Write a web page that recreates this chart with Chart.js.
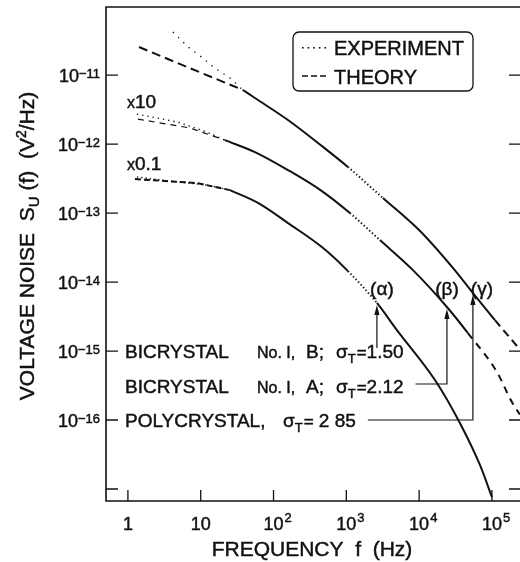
<!DOCTYPE html>
<html>
<head>
<meta charset="utf-8">
<script src="https://cdn.jsdelivr.net/npm/chart.js@4.4.0/dist/chart.umd.min.js"></script>
<style>
html, body { margin: 0; padding: 0; background: #fff; }
#wrap { width: 520px; height: 562px; }
</style>
</head>
<body>
<div id="wrap"><canvas id="noiseChart"></canvas></div>
<script>
// Frequencies in Hz, S_U in V^2/Hz (as plotted, multipliers already applied)
// src per segment: 'both' = experiment and theory agree, 'exp' = experiment only, 'theory' = theory only

// polycrystal, sigma_T = 2.85  (gamma)
const topTheoryLoF = [1.42, 7.1, 38];
const topTheoryLoS = [2.55e-11, 1.26e-11, 6.07e-12];
const topExpLoF = [4.15, 6.7, 10.7, 15.7, 25.2, 38];
const topExpLoS = [4.2e-11, 2.55e-11, 1.76e-11, 1.26e-11, 9.06e-12, 6.07e-12];
const topF = [38, 55.6, 158, 462, 1052, 3184, 10300, 29100, 54800, 110000, 227500];
const topS = [6.07e-12, 4.65e-12, 2.23e-12, 9.35e-13, 4.65e-13, 1.65e-13, 5.48e-14, 1.6e-14, 6.93e-15, 2.81e-15, 1.14e-15];
const topSrc = ['both', 'both', 'both', 'both', 'exp', 'both', 'both', 'both', 'both', 'theory'];

// bicrystal No. 1, A, sigma_T = 2.12  (beta), x10
const midTheoryLoF = [1.37, 7.1, 21.5];
const midTheoryLoS = [2.3e-12, 1.71e-12, 1.14e-12];
const midExpLoF = [1.33, 4.86, 12.2, 21.5];
const midExpLoS = [2.72e-12, 2.08e-12, 1.49e-12, 1.14e-12];
const midF = [21.5, 55.6, 158, 462, 1120, 2896, 8220, 24100, 46800, 117000, 188000, 242000];
const midS = [1.14e-12, 7.66e-13, 4.2e-13, 2.08e-13, 1.0e-13, 4.06e-14, 1.49e-14, 4.35e-15, 1.82e-15, 4.97e-16, 1.82e-16, 1.2e-16];
const midSrc = ['both', 'both', 'both', 'both', 'exp', 'both', 'both', 'both', 'theory', 'theory', 'theory'];

// bicrystal No. 1, B, sigma_T = 1.50  (alpha), x0.1
const botTheoryLoF = [1.25, 8.87, 25.2];
const botTheoryLoS = [3.11e-13, 2.72e-13, 2.15e-13];
const botExpLoF = [1.33, 3.77, 12.2, 25.2];
const botExpLoS = [3.33e-13, 2.91e-13, 2.55e-13, 2.15e-13];
const botF = [25.2, 61.1, 158, 462, 1052, 2632, 4955, 16500, 36300, 68400, 100000];
const botS = [2.15e-13, 1.4e-13, 7.16e-14, 3.21e-14, 1.44e-14, 4.97e-15, 2.01e-15, 3.8e-16, 9.06e-17, 2.23e-17, 7.66e-18];
const botSrc = ['both', 'both', 'both', 'both', 'exp', 'both', 'both', 'both', 'both', 'both'];

// arrow marks (alpha, beta, gamma) sit on the traces
const markNames = ['(α)', '(β)', '(γ)'];
const markF = [2632, 24100, 54800];
const markS = [4.97e-15, 4.35e-15, 6.93e-15];

const xTickExp = [0, 1, 2, 3, 4, 5];
const yTickExp = [-17, -16, -15, -14, -13, -12, -11];
const yLabelExp = [-16, -15, -14, -13, -12, -11];

const INK = '#111';
const FONT = '"Liberation Sans", Arial, sans-serif';
const font = size => size + 'px ' + FONT;

const pts = (fs, ss) => fs.map((f, i) => ({ x: f, y: ss[i] }));

function dashedLine(f, s, dash, width) {
  return {
    data: pts(f, s), showLine: true, pointRadius: 0, borderColor: INK,
    borderWidth: width, borderDash: dash, borderCapStyle: 'butt', tension: 0
  };
}

function trace(f, s, src, theoryDash) {
  return {
    data: pts(f, s), showLine: true, pointRadius: 0, borderColor: INK,
    borderWidth: 2, borderCapStyle: 'butt', cubicInterpolationMode: 'monotone',
    segment: {
      borderDash: ctx => {
        const k = src[ctx.p0DataIndex];
        if (k === 'exp') return [1.3, 2.4];
        if (k === 'theory') return theoryDash;
        return [];
      }
    }
  };
}

// draw [text, size, rise] pieces along one baseline, returns end x
function drawRuns(ctx, parts, x, y) {
  ctx.lineWidth = 0.45;
  for (const [t, size, rise] of parts) {
    ctx.font = font(size);
    ctx.fillText(t, x, y - (rise || 0));
    ctx.strokeText(t, x, y - (rise || 0));
    x += ctx.measureText(t).width;
  }
  return x;
}
function runsWidth(ctx, parts) {
  let w = 0;
  for (const [t, size] of parts) { ctx.font = font(size); w += ctx.measureText(t).width; }
  return w;
}

function arrowHead(ctx, x, y) {
  ctx.beginPath();
  ctx.moveTo(x, y);
  ctx.lineTo(x - 2.6, y + 10);
  ctx.lineTo(x + 2.6, y + 10);
  ctx.closePath();
  ctx.fill();
}

const decorations = {
  id: 'decorations',
  beforeDraw(chart) {
    const ctx = chart.ctx;
    ctx.save();
    ctx.fillStyle = '#fff';
    ctx.fillRect(0, 0, chart.width, chart.height);
    ctx.restore();
  },
  afterDraw(chart) {
    const ctx = chart.ctx;
    const a = chart.chartArea;
    const xs = chart.scales.x, ys = chart.scales.y;
    ctx.save();
    ctx.strokeStyle = INK;
    ctx.fillStyle = INK;
    ctx.textBaseline = 'alphabetic';

    // frame: the right side runs off the canvas edge
    ctx.lineWidth = 1.6;
    ctx.beginPath();
    ctx.moveTo(a.right, a.top);
    ctx.lineTo(a.left, a.top);
    ctx.lineTo(a.left, a.bottom);
    ctx.lineTo(a.right, a.bottom);
    ctx.stroke();

    // inward ticks
    ctx.lineWidth = 1.3;
    ctx.beginPath();
    for (const e of xTickExp) {
      const px = xs.getPixelForValue(Math.pow(10, e));
      ctx.moveTo(px, a.bottom); ctx.lineTo(px, a.bottom - 11);
    }
    for (const e of yTickExp) {
      const py = ys.getPixelForValue(Math.pow(10, e));
      ctx.moveTo(a.left, py); ctx.lineTo(a.left + 12, py);
      ctx.moveTo(a.right, py); ctx.lineTo(a.right - 11, py);
    }
    ctx.stroke();

    // y tick labels 10^-n
    for (const e of yLabelExp) {
      const py = ys.getPixelForValue(Math.pow(10, e));
      const parts = [['10', 18, 0], ['−' + Math.abs(e), 13, 4]];
      drawRuns(ctx, parts, a.left - 6 - runsWidth(ctx, parts), py + 6.5);
    }

    // x tick labels
    for (const e of xTickExp) {
      const px = xs.getPixelForValue(Math.pow(10, e));
      const base = e === 0 ? '1' : '10';
      ctx.font = font(18);
      const w = ctx.measureText(base).width;
      const end = drawRuns(ctx, [[base, 18, 0]], px - w / 2, a.bottom + 29);
      if (e > 1) drawRuns(ctx, [[String(e), 13, 8]], end + 1, a.bottom + 29);
    }

    // axis titles
    const xt = [['FREQUENCY  f  (Hz)', 21, 0]];
    drawRuns(ctx, xt, 312 - runsWidth(ctx, xt) / 2, a.bottom + 55);

    const yt = [['VOLTAGE NOISE  S', 21, 0], ['U', 15, -5], [' (f)  (V', 21, 0], ['2', 14, 8], ['/Hz)', 21, 0]];
    ctx.save();
    ctx.translate(26, 246);
    ctx.rotate(-Math.PI / 2);
    drawRuns(ctx, yt, -runsWidth(ctx, yt) / 2, 7.5);
    ctx.restore();

    // legend
    ctx.lineWidth = 1.3;
    ctx.beginPath();
    ctx.roundRect(293, 32, 180, 59, 6);
    ctx.stroke();
    for (let i = 0; i < 5; i++) ctx.fillRect(302 + i * 5.6, 47, 1.6, 1.6);
    ctx.lineWidth = 1.4;
    ctx.beginPath();
    for (let i = 0; i < 3; i++) { ctx.moveTo(302 + i * 9, 76); ctx.lineTo(308 + i * 9, 76); }
    ctx.stroke();
    drawRuns(ctx, [['EXPERIMENT', 20, 0]], 334, 55);
    drawRuns(ctx, [['THEORY', 20, 0]], 334, 84);

    // multipliers
    drawRuns(ctx, [['x', 16, 0], ['10', 19, 0]], 127, 108);
    drawRuns(ctx, [['x', 16, 0], ['0.1', 19, 0]], 127, 170);

    // sample rows
    const sigma = (x, y, val) => {
      const e = drawRuns(ctx, [['σ', 19, 0], ['T', 13, -5]], x, y);
      return drawRuns(ctx, [['=', 17, 0], [val, 19, 0]], e + 1, y);
    };
    drawRuns(ctx, [['BICRYSTAL', 19, 0]], 125, 358);
    drawRuns(ctx, [['No. I,', 16, 0]], 257, 358);
    drawRuns(ctx, [['B;', 19, 0]], 306, 358);
    sigma(336, 358, '1.50');
    drawRuns(ctx, [['BICRYSTAL', 19, 0]], 125, 393);
    drawRuns(ctx, [['No. I,', 16, 0]], 257, 393);
    drawRuns(ctx, [['A;', 19, 0]], 306, 393);
    const e2 = sigma(336, 393, '2.12');
    drawRuns(ctx, [['POLYCRYSTAL,', 19, 0]], 125, 427);
    const e3 = sigma(283, 427, ' 2 85');

    // arrows to the traces
    const mx = markF.map(f => xs.getPixelForValue(f));
    const my = markS.map(s => ys.getPixelForValue(s) + 2);
    const rowY = [null, 384, 420];
    const rowEnd = [null, e2, e3];
    ctx.lineWidth = 1.2;
    ctx.beginPath();
    ctx.moveTo(mx[0], 348); ctx.lineTo(mx[0], my[0] + 4);
    for (let i = 1; i < 3; i++) {
      ctx.moveTo(rowEnd[i] + 12, rowY[i]);
      ctx.lineTo(mx[i], rowY[i]);
      ctx.lineTo(mx[i], my[i] + 4);
    }
    ctx.stroke();
    for (let i = 0; i < 3; i++) arrowHead(ctx, mx[i], my[i]);

    // (alpha) (beta) (gamma)
    const labOff = [5, 0, 9];
    for (let i = 0; i < 3; i++) {
      ctx.font = font(19);
      const w = ctx.measureText(markNames[i]).width;
      drawRuns(ctx, [[markNames[i], 19, 0]], mx[i] + labOff[i] - w / 2, 295);
    }
    ctx.restore();
  }
};

new Chart(document.getElementById('noiseChart'), {
  type: 'scatter',
  data: {
    datasets: [
      dashedLine(topTheoryLoF, topTheoryLoS, [9, 5], 2),
      dashedLine(topExpLoF, topExpLoS, [1.3, 6], 1.4),
      trace(topF, topS, topSrc, [8, 5]),
      dashedLine(midTheoryLoF, midTheoryLoS, [6, 5], 1.2),
      dashedLine(midExpLoF, midExpLoS, [1.3, 4], 1.4),
      trace(midF, midS, midSrc, [7, 6]),
      dashedLine(botTheoryLoF, botTheoryLoS, [6, 3], 2),
      dashedLine(botExpLoF, botExpLoS, [1.3, 3], 1.4),
      trace(botF, botS, botSrc, [8, 5])
    ]
  },
  options: {
    responsive: true,
    maintainAspectRatio: false,
    animation: false,
    layout: { padding: { left: 106, right: 0, top: 7, bottom: 61 } },
    plugins: { legend: { display: false }, tooltip: { enabled: false } },
    scales: {
      x: { type: 'logarithmic', display: false, min: 0.5, max: 243000 },
      y: { type: 'logarithmic', display: false, min: 6.7e-18, max: 9.7e-11 }
    }
  },
  plugins: [decorations]
});
</script>
</body>
</html>
